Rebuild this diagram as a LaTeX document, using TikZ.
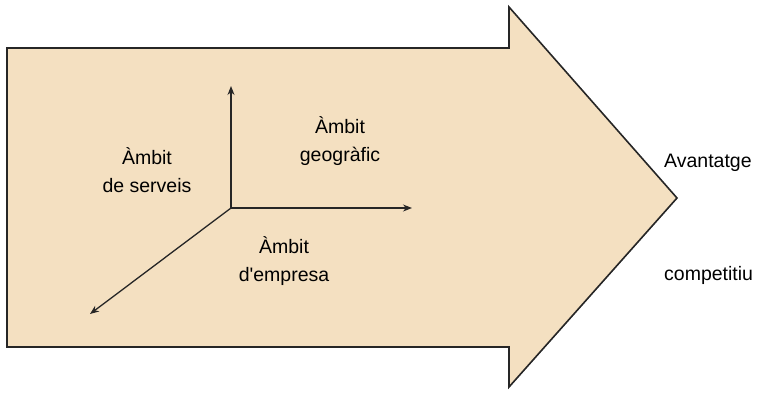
\documentclass[tikz,border=0pt]{standalone}
\usepackage{fontspec}
\setmainfont{Liberation Sans}[Ligatures=TeXOff]
\usetikzlibrary{arrows.meta}
\definecolor{tan}{RGB}{244,224,193}
\begin{document}
\begin{tikzpicture}[x=1pt,y=-1pt,
  lbl/.style={align=center,font=\fontsize{19.5}{27.5}\selectfont,inner sep=0pt},
  side/.style={anchor=west,font=\fontsize{19.5}{22}\selectfont,inner sep=0pt},
  axis/.style={draw=black!85,line width=1.3pt,-{Stealth[length=9pt,width=7pt]}}]
\useasboundingbox (0,0) rectangle (758,392);
\path[fill=tan,draw=black!85,line width=1.6pt,line join=miter]
  (7,48) -- (509,48) -- (509,7) -- (677,198) -- (509,387) -- (509,347) -- (7,347) -- cycle;
\coordinate (o) at (231,208);
\coordinate (up) at (231,86);
\coordinate (rt) at (412,208);
\coordinate (dl) at (90,314);
\draw[axis] (o) -- (up);
\draw[axis] (o) -- (rt);
\draw[axis] (o) -- (dl);
\node[lbl] (serv) at (147,170) {Àmbit\\de serveis};
\node[lbl] (geo) at (340,141) {Àmbit\\geogràfic};
\node[lbl] (emp) at (284,261) {Àmbit\\d'empresa};
\node[side] (av) at (664,163) {Avantatge};
\node[side] (comp) at (664,275) {competitiu};
\end{tikzpicture}
\end{document}
